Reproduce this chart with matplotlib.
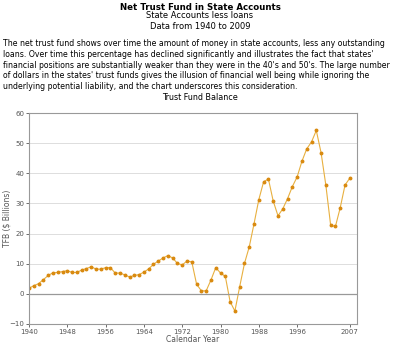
import numpy as np
import matplotlib
matplotlib.use("Agg")
import matplotlib.pyplot as plt

years = np.arange(1940, 2008)
tfb = [1.9, 2.7, 3.4, 4.7, 6.1, 7.0, 7.1, 7.4, 7.7, 7.1,
       7.1, 7.9, 8.4, 9.0, 8.2, 8.2, 8.7, 8.7, 6.9, 6.9,
       6.3, 5.6, 6.1, 6.4, 7.2, 8.3, 9.8, 10.9, 11.9, 12.7,
       11.9, 10.1, 9.6, 10.9, 10.6, 3.2, 1.0, 1.0, 4.6, 8.7,
       6.9, 5.8, -2.6, -5.7, 2.4, 10.1, 15.6, 23.3, 31.3, 37.2,
       38.1, 30.8, 25.9, 28.2, 31.6, 35.6, 38.8, 44.0, 48.1, 50.4,
       54.2, 46.8, 36.0, 22.7, 22.4, 28.6, 36.1, 38.4]
xtick_years = [1940, 1948, 1956, 1964, 1972, 1980, 1988, 1996, 2007]
yticks = [-10, 0, 10, 20, 30, 40, 50, 60]

title = "Net Trust Fund in State Accounts"
subtitle = "State Accounts less loans\nData from 1940 to 2009"
paragraph = ("The net trust fund shows over time the amount of money in state accounts, less any outstanding\n"
             "loans. Over time this percentage has declined significantly and illustrates the fact that states'\n"
             "financial positions are substantially weaker than they were in the 40's and 50's. The large number\n"
             "of dollars in the states' trust funds gives the illusion of financial well being while ignoring the\n"
             "underlying potential liability, and the chart underscores this consideration.")

plt.rcParams['font.family'] = 'DejaVu Sans'
fig = plt.figure(figsize=(4, 3.46), dpi=100)
W, H = 400, 346

# plot area in pixels: left 29, right 357, top 113, bottom 324
ax = fig.add_axes([29 / W, 1 - 324 / H, (357 - 29) / W, (324 - 113) / H])

ax.plot(years, tfb, color='#E8B040', linewidth=0.8, marker='o', markersize=1.8,
        markerfacecolor='#D98A10', markeredgecolor='#D98A10')

ax.set_xlim(1940, 2008.5)
ax.set_ylim(-10, 60)
ax.set_xticks(xtick_years)
ax.set_yticks(yticks)
ax.tick_params(labelsize=5, colors='#555555', length=2, width=0.6, pad=1.5)
ax.grid(axis='y', color='#DDDDDD', linewidth=0.7)
ax.axhline(0, color='#999999', linewidth=0.9)
for s in ax.spines.values():
    s.set_color('#999999')
    s.set_linewidth(0.8)

fig.text(193 / W, 1 - 340 / H, 'Calendar Year', ha='center', va='center',
         fontsize=5.5, color='#555555')
fig.text(7 / W, 1 - 218 / H, 'TFB ($ Billions)', ha='center', va='center',
         fontsize=5.5, color='#555555', rotation=90)

fig.text(0.5, 1 - 7 / H, title, ha='center', va='center', fontsize=6.2, fontweight='bold')
fig.text(0.5, 1 - 21 / H, subtitle, ha='center', va='center', fontsize=6, linespacing=1.2)
fig.text(3 / W, 1 - 65 / H, paragraph, ha='left', va='center', fontsize=5.6, linespacing=1.27)
fig.text(0.5, 1 - 98 / H, 'Trust Fund Balance', ha='center', va='center', fontsize=5.8)

fig.savefig('out.png', dpi=100)
